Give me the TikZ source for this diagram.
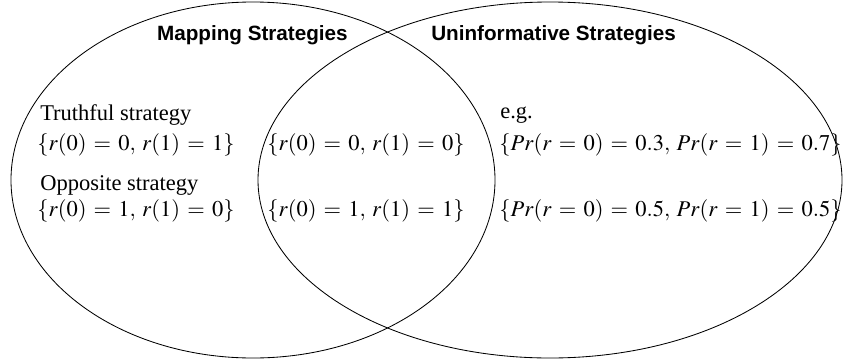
\documentclass[tikz,border=0pt]{standalone}
\usepackage{mathptmx}
\usepackage[no-math]{fontspec}
\setmainfont{Liberation Serif}
\setsansfont{Liberation Sans}
\usetikzlibrary{shapes.geometric}
\thickmuskip=5.8mu
\thinmuskip=5mu

\begin{document}
\begin{tikzpicture}[
  setshape/.style = {
    draw,
    ellipse,
    line width=0.6pt,
    inner sep=0pt,
    minimum height=8.9cm
  },
  settitle/.style = {
    font=\fontsize{14.7}{17}\selectfont\sffamily\bfseries,
    inner sep=0pt
  },
  entry/.style = {
    font=\fontsize{16}{19}\selectfont,
    anchor=base west,
    inner sep=0pt
  }
]
    \useasboundingbox (0,0) rectangle (21.1,9.05);
    % the two sets
    \node[setshape, minimum width=12.1cm] (mapset) at (6.325,4.55) {};
    \node[setshape, minimum width=14.6cm] (uninfset) at (13.75,4.55) {};
    \node[settitle] (maptitle) at (6.31,8.175) {Mapping Strategies};
    \node[settitle] (uninftitle) at (13.84,8.175) {Uninformative Strategies};
    % mapping only
    \node[entry] (truthlbl) at (1.0,6.05) {Truthful strategy};
    \node[entry] (truth) at (0.925,5.3) {$\{r(0) = 0, r(1) = 1\}$};
    \node[entry] (opplbl) at (1.0,4.3) {Opposite strategy};
    \node[entry] (opp) at (0.925,3.63) {$\{r(0) = 1, r(1) = 0\}$};
    % both
    \foreach \v/\y in {0/5.3,1/3.63}{
        \node[entry] (both\v) at (6.675,\y) {$\{r(0) = \v, r(1) = \v\}$};
    }
    % uninformative only
    \node[entry] (eglbl) at (12.5,6.1) {e.g.};
    \foreach \p/\q/\y [count=\i] in {0.3/0.7/5.3,0.5/0.5/3.63}{
        \node[entry] (rand\i) at (12.475,\y) {$\{Pr(r = 0) = \p, Pr(r = 1) = \q\}$};
    }
\end{tikzpicture}
\end{document}
